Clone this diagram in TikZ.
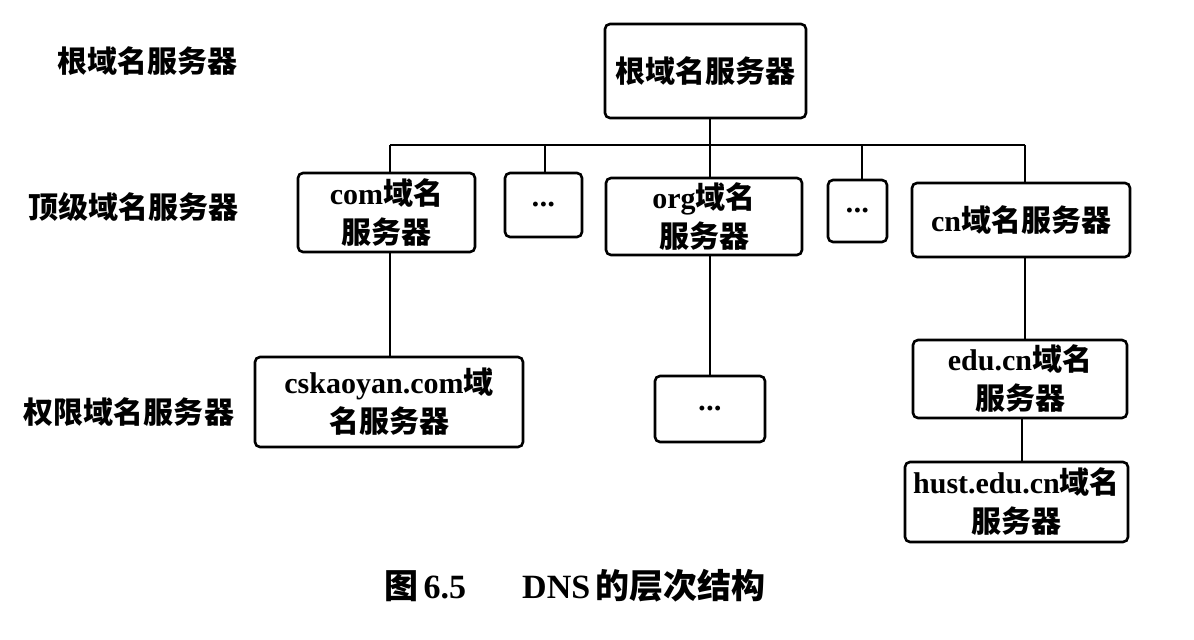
\documentclass[tikz,border=0pt]{standalone}
\usepackage{fontspec}
\setmainfont{Liberation Serif}
\newfontfamily\cjk{Noto Sans CJK SC}
\newcommand{\zh}[1]{{\cjk\bfseries #1}}
\newcommand{\dotsthree}{\raisebox{-2.6pt}[0pt][0pt]{\fontsize{9}{9}\selectfont\textbullet\kern0.8pt\textbullet\kern0.8pt\textbullet}}
\begin{document}
\begin{tikzpicture}[x=0.5pt,y=-0.5pt,
  box/.style={draw, line width=1.3pt, rounded corners=2.5pt, align=center, inner sep=0pt,
    font=\fontsize{15}{19.5}\selectfont\bfseries},
  lvl/.style={font=\fontsize{15}{18}\selectfont, inner sep=0pt},
  link/.style={line width=1.1pt}]
\useasboundingbox (0,0) rectangle (1194,640);
% boxes
\node[box, minimum width=100.5pt, minimum height=47pt] (root) at (705.5,71) {\zh{根域名服务器}};
\node[box, minimum width=88.5pt, minimum height=39.5pt] (com) at (386.5,212.5) {com\zh{域名}\\\zh{服务器}};
\node[box, minimum width=38.5pt, minimum height=32pt] (d1) at (543.5,205) {\dotsthree};
\node[box, minimum width=98pt, minimum height=38.5pt] (org) at (704,216.5) {org\zh{域名}\\\zh{服务器}};
\node[box, minimum width=29.5pt, minimum height=31pt] (d2) at (857.5,211) {\dotsthree};
\node[box, minimum width=109pt, minimum height=37pt] (cn) at (1021,220) {cn\zh{域名服务器}};
\node[box, minimum width=134pt, minimum height=45pt] (csk) at (389,402) {cskaoyan.com\zh{域}\\\zh{名服务器}};
\node[box, minimum width=55pt, minimum height=33pt] (d3) at (710,409) {\dotsthree};
\node[box, minimum width=107pt, minimum height=39pt] (edu) at (1020,379) {edu.cn\zh{域名}\\\zh{服务器}};
\node[box, minimum width=111.5pt, minimum height=40pt] (hust) at (1016.5,502) {hust.edu.cn\zh{域名}\\\zh{服务器}};
% level labels
\node[lvl] (l1) at (147,61) {\zh{根域名服务器}};
\node[lvl] (l2) at (133,207) {\zh{顶级域名服务器}};
\node[lvl] (l3) at (129,412) {\zh{权限域名服务器}};
% caption
\node[inner sep=0pt, font=\fontsize{17}{20}\selectfont\bfseries] (cap) at (575,586)
  {\zh{图}\,6.5\hspace{28pt}DNS\,\zh{的层次结构}};
% bus coordinates
\coordinate (b1) at (390,145);
\coordinate (b2) at (545,145);
\coordinate (b3) at (710,145);
\coordinate (b4) at (862,145);
\coordinate (b5) at (1025,145);
\coordinate (b6) at (1022,145);
% connectors
\draw[link] (b3 |- root.south) -- (b3);
\draw[link] (b1) -- (b5);
\draw[link] (b1) -- (b1 |- com.north);
\draw[link] (b2) -- (b2 |- d1.north);
\draw[link] (b3) -- (b3 |- org.north);
\draw[link] (b4) -- (b4 |- d2.north);
\draw[link] (b5) -- (b5 |- cn.north);
\draw[link] (b1 |- com.south) -- (b1 |- csk.north);
\draw[link] (b3 |- org.south) -- (b3 |- d3.north);
\draw[link] (b5 |- cn.south) -- (b5 |- edu.north);
\draw[link] (b6 |- edu.south) -- (b6 |- hust.north);
\end{tikzpicture}
\end{document}
